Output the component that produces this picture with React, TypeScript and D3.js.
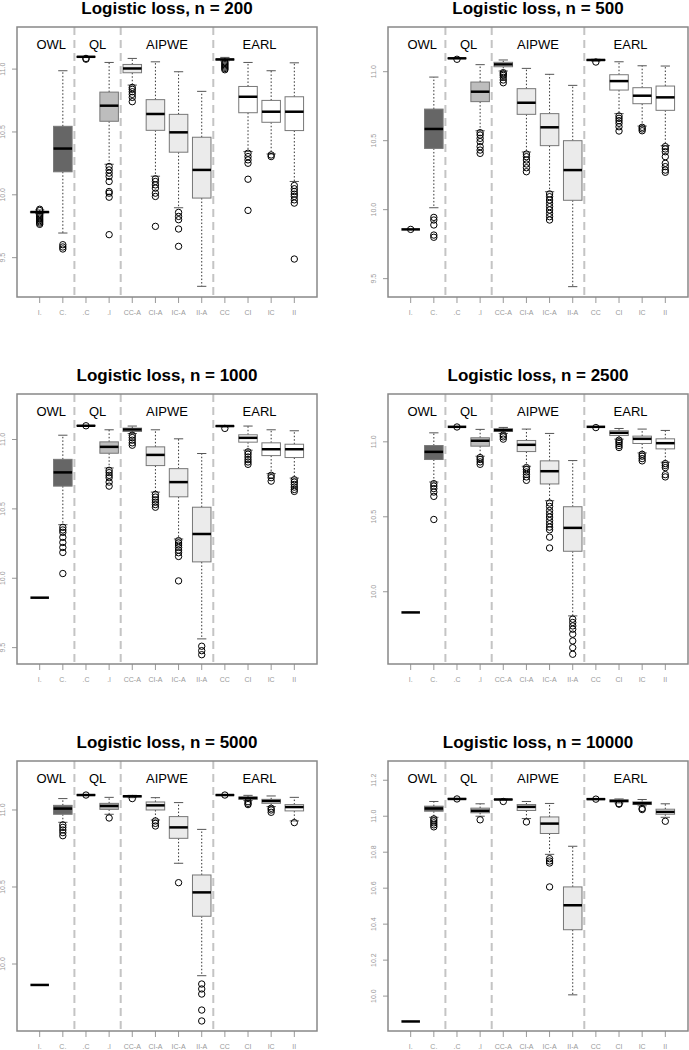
import React from "react";
import * as d3 from "d3";

// sample sizes, one panel each
const sampleSizes = [200, 500, 1000, 2500, 5000, 10000];
const boxLabels = ["I.", "C.", ".C", ".I", "CC-A", "CI-A", "IC-A", "II-A", "CC", "CI", "IC", "II"];
const methodGroups = ["OWL", "QL", "AIPWE", "EARL"];
const groupSpans = [[1, 2], [3, 4], [5, 8], [9, 12]];
const groupFills = ["#666666", "#bdbdbd", "#ebebeb", "#ffffff"];

// [lower whisker, Q1, median, Q3, upper whisker] per box
const stats200 = [
  [9.85, 9.858, 9.863, 9.866, 9.88],
  [9.696, 10.183, 10.368, 10.545, 10.987],
  [11.095, 11.096, 11.098, 11.099, 11.1],
  [10.243, 10.585, 10.709, 10.817, 11.053],
  [10.873, 10.971, 11.005, 11.037, 11.085],
  [10.148, 10.513, 10.643, 10.757, 11.058],
  [9.897, 10.339, 10.497, 10.64, 10.979],
  [9.272, 9.974, 10.198, 10.458, 10.823],
  [11.065, 11.073, 11.077, 11.08, 11.093],
  [10.344, 10.653, 10.78, 10.862, 11.053],
  [10.325, 10.577, 10.661, 10.751, 10.987],
  [10.106, 10.511, 10.661, 10.78, 11.05],
];
const outliers200 = [
  [9.845, 9.835, 9.825, 9.815, 9.805, 9.795, 9.785, 9.775, 9.765, 9.875, 9.885],
  [9.603, 9.585, 9.569],
  [11.085, 11.079],
  [10.225, 10.198, 10.172, 10.146, 10.106, 10.026, 10.013, 9.981, 9.683],
  [10.854, 10.839, 10.82, 10.799, 10.775, 10.741],
  [10.127, 10.106, 10.079, 10.053, 10.013, 9.987, 9.749],
  [9.86, 9.828, 9.802, 9.728, 9.59],
  [],
  [11.055, 11.045, 11.035, 11.025, 11.015, 11.005, 10.995],
  [10.331, 10.304, 10.278, 10.251, 10.124, 9.876],
  [10.317, 10.304],
  [10.074, 10.048, 10.026, 10.005, 9.987, 9.96, 9.934, 9.489],
];

const stats500 = [
  [9.857, 9.857, 9.857, 9.857, 9.857],
  [10.014, 10.444, 10.585, 10.729, 10.961],
  [11.096, 11.097, 11.097, 11.098, 11.099],
  [10.572, 10.783, 10.855, 10.925, 11.051],
  [11.005, 11.036, 11.053, 11.068, 11.085],
  [10.418, 10.691, 10.775, 10.877, 11.024],
  [10.13, 10.464, 10.597, 10.696, 10.981],
  [9.442, 10.068, 10.287, 10.5, 10.901],
  [11.077, 11.082, 11.085, 11.087, 11.09],
  [10.696, 10.867, 10.932, 10.978, 11.072],
  [10.606, 10.768, 10.826, 10.884, 11.043],
  [10.464, 10.72, 10.814, 10.896, 11.041],
];
const outliers500 = [
  [9.857],
  [9.944, 9.925, 9.889, 9.816, 9.8],
  [11.09],
  [10.558, 10.541, 10.517, 10.493, 10.457, 10.432, 10.408],
  [10.993, 10.983, 10.973, 10.959, 10.94, 10.92],
  [10.403, 10.384, 10.36, 10.331, 10.304, 10.275],
  [10.114, 10.094, 10.07, 10.046, 10.022, 9.998, 9.973, 9.949, 9.925],
  [],
  [11.07],
  [10.679, 10.662, 10.645, 10.626, 10.601, 10.57],
  [10.597, 10.585, 10.572],
  [10.457, 10.44, 10.42, 10.384, 10.336, 10.312, 10.287, 10.271],
];

const stats1000 = [
  [9.86, 9.86, 9.86, 9.86, 9.86],
  [10.386, 10.664, 10.763, 10.857, 11.031],
  [11.098, 11.099, 11.099, 11.1, 11.1],
  [10.795, 10.901, 10.947, 10.983, 11.07],
  [11.043, 11.058, 11.072, 11.082, 11.097],
  [10.621, 10.812, 10.889, 10.947, 11.07],
  [10.283, 10.587, 10.693, 10.79, 11.005],
  [9.563, 10.118, 10.319, 10.512, 10.899],
  [11.092, 11.095, 11.097, 11.098, 11.1],
  [10.923, 10.981, 11.012, 11.034, 11.097],
  [10.754, 10.884, 10.93, 10.976, 11.07],
  [10.722, 10.87, 10.93, 10.966, 11.063],
];
const outliers1000 = [
  [],
  [10.367, 10.348, 10.331, 10.295, 10.258, 10.222, 10.186, 10.034],
  [11.099],
  [10.778, 10.761, 10.742, 10.725, 10.693, 10.664],
  [11.031, 11.014, 10.995, 10.976, 10.959],
  [10.604, 10.585, 10.565, 10.548, 10.531, 10.512],
  [10.271, 10.254, 10.239, 10.222, 10.203, 10.184, 10.157, 9.981],
  [9.51, 9.478, 9.449],
  [11.08],
  [10.911, 10.894, 10.874, 10.855, 10.838, 10.821],
  [10.742, 10.725, 10.7],
  [10.71, 10.693, 10.676, 10.657, 10.64, 10.626],
];

const stats2500 = [
  [9.862, 9.862, 9.862, 9.862, 9.862],
  [10.732, 10.882, 10.933, 10.975, 11.06],
  [11.099, 11.1, 11.1, 11.1, 11.101],
  [10.904, 10.971, 11.007, 11.027, 11.083],
  [11.056, 11.069, 11.078, 11.087, 11.096],
  [10.837, 10.935, 10.98, 11.009, 11.085],
  [10.607, 10.719, 10.804, 10.873, 11.056],
  [9.839, 10.27, 10.426, 10.567, 10.875],
  [11.099, 11.1, 11.1, 11.1, 11.101],
  [11.018, 11.042, 11.06, 11.074, 11.089],
  [10.926, 10.989, 11.02, 11.038, 11.085],
  [10.864, 10.953, 10.991, 11.02, 11.076],
];
const outliers2500 = [
  [],
  [10.721, 10.705, 10.688, 10.665, 10.636, 10.482],
  [11.099],
  [10.895, 10.882, 10.866, 10.85],
  [11.045, 11.033, 11.018],
  [10.828, 10.815, 10.799, 10.783, 10.766, 10.743],
  [10.592, 10.569, 10.542, 10.52, 10.498, 10.475, 10.453, 10.431, 10.413, 10.364, 10.292],
  [9.817, 9.795, 9.772, 9.75, 9.717, 9.672, 9.627, 9.583],
  [11.095],
  [11.011, 11.0, 10.989, 10.975, 10.962],
  [10.917, 10.904, 10.888, 10.873],
  [10.855, 10.842, 10.828, 10.781, 10.766],
];

const stats5000 = [
  [9.864, 9.864, 9.864, 9.864, 9.864],
  [10.92, 10.972, 11.009, 11.03, 11.074],
  [11.096, 11.097, 11.097, 11.098, 11.098],
  [10.972, 11.004, 11.026, 11.043, 11.082],
  [11.08, 11.085, 11.089, 11.092, 11.095],
  [10.935, 11.0, 11.03, 11.052, 11.08],
  [10.654, 10.816, 10.887, 10.957, 11.048],
  [9.924, 10.31, 10.465, 10.578, 10.874],
  [11.096, 11.097, 11.097, 11.098, 11.098],
  [11.061, 11.069, 11.078, 11.084, 11.095],
  [11.022, 11.043, 11.058, 11.069, 11.091],
  [10.929, 10.994, 11.019, 11.035, 11.082],
];
const outliers5000 = [
  [],
  [10.903, 10.887, 10.87, 10.853, 10.833],
  [11.097],
  [10.948],
  [11.074],
  [10.929, 10.913, 10.896],
  [10.528],
  [9.87, 9.838, 9.805, 9.701, 9.63],
  [11.097],
  [11.054, 11.043, 11.035],
  [11.011, 11.0, 10.985],
  [10.918],
];

const stats10000 = [
  [9.859, 9.859, 9.859, 9.859, 9.859],
  [10.994, 11.028, 11.043, 11.056, 11.082],
  [11.095, 11.096, 11.096, 11.097, 11.097],
  [11.0, 11.019, 11.03, 11.045, 11.069],
  [11.091, 11.092, 11.093, 11.094, 11.095],
  [10.987, 11.032, 11.052, 11.065, 11.082],
  [10.788, 10.904, 10.959, 10.996, 11.071],
  [10.007, 10.369, 10.505, 10.607, 10.833],
  [11.094, 11.095, 11.095, 11.096, 11.096],
  [11.074, 11.08, 11.085, 11.091, 11.096],
  [11.058, 11.065, 11.072, 11.08, 11.093],
  [10.994, 11.011, 11.024, 11.039, 11.069],
];
const outliers10000 = [
  [],
  [10.985, 10.974, 10.963, 10.952, 10.941],
  [11.096],
  [10.98],
  [11.082],
  [10.968],
  [10.764, 10.751, 10.74, 10.607],
  [],
  [11.095],
  [11.07, 11.067],
  [11.043, 11.037],
  [10.972],
];

const allStats = [stats200, stats500, stats1000, stats2500, stats5000, stats10000];
const allOutliers = [outliers200, outliers500, outliers1000, outliers2500, outliers5000, outliers10000];

// y axis range of each panel (bottom, top of the frame)
const yDomains = [
  [9.187, 11.335],
  [9.367, 11.324],
  [9.382, 11.328],
  [9.518, 11.319],
  [9.565, 11.318],
  [9.806, 11.307],
];
const yTicksCoarse = [9.5, 10.0, 10.5, 11.0];
const yTicksFine = [10.0, 10.2, 10.4, 10.6, 10.8, 11.0, 11.2];

const W = 689;
const H = 1050;
const colLeft = [17, 388];
const rowTop = [27, 394, 761];
const plotW = 300;
const plotH = 270;
const font = "'Liberation Sans', Arial, Helvetica, sans-serif";

const Panel = ({ idx }: { idx: number }) => {
  const left = colLeft[idx % 2];
  const top = rowTop[Math.floor(idx / 2)];
  const bottom = top + plotH;
  const x = d3.scaleLinear().domain([0.02, 12.98]).range([left, left + plotW]);
  const y = d3.scaleLinear().domain(yDomains[idx]).range([bottom, top]);
  const stats = allStats[idx];
  const outs = allOutliers[idx];
  const ticks = (idx === 5 ? yTicksFine : yTicksCoarse).filter(
    (t) => t >= yDomains[idx][0] && t <= yDomains[idx][1]
  );
  const fmt = d3.format(".1f");
  const half = x(0.4) - x(0);
  const capHalf = x(0.2) - x(0);

  const fillOf = (i: number) => {
    const g = groupSpans.findIndex((s) => i + 1 >= s[0] && i + 1 <= s[1]);
    return groupFills[g];
  };

  return (
    <g>
      <text
        x={x(6.5)}
        y={top - 13}
        textAnchor="middle"
        fontFamily={font}
        fontWeight="bold"
        fontSize={17}
        fill="#000"
      >
        {`Logistic loss, n = ${sampleSizes[idx]}`}
      </text>

      {/* separators between methods */}
      {groupSpans.slice(0, 3).map((s, i) => (
        <line
          key={"sep" + i}
          x1={x(s[1] + 0.5)}
          x2={x(s[1] + 0.5)}
          y1={top}
          y2={bottom}
          stroke="#c4c4c4"
          strokeWidth={2}
          strokeDasharray="8,5"
        />
      ))}

      {methodGroups.map((m, i) => (
        <text
          key={m}
          x={x((groupSpans[i][0] + groupSpans[i][1]) / 2)}
          y={top + 22}
          textAnchor="middle"
          fontFamily={font}
          fontSize={13}
          fill="#000"
        >
          {m}
        </text>
      ))}

      {stats.map((s, i) => {
        const cx = x(i + 1);
        const [lw, q1, med, q3, uw] = s;
        return (
          <g key={"box" + i}>
            <line x1={cx} x2={cx} y1={y(q3)} y2={y(uw)} stroke="#333" strokeWidth={1} strokeDasharray="1.5,2" />
            <line x1={cx} x2={cx} y1={y(q1)} y2={y(lw)} stroke="#333" strokeWidth={1} strokeDasharray="1.5,2" />
            <line x1={cx - capHalf} x2={cx + capHalf} y1={y(uw)} y2={y(uw)} stroke="#555" strokeWidth={1} />
            <line x1={cx - capHalf} x2={cx + capHalf} y1={y(lw)} y2={y(lw)} stroke="#555" strokeWidth={1} />
            <rect
              x={cx - half}
              y={y(q3)}
              width={half * 2}
              height={Math.max(0, y(q1) - y(q3))}
              fill={fillOf(i)}
              stroke="#777"
              strokeWidth={1}
            />
            <line x1={cx - half} x2={cx + half} y1={y(med)} y2={y(med)} stroke="#000" strokeWidth={2.5} />
            {outs[i].map((o, j) => (
              <circle key={j} cx={cx} cy={y(o)} r={3.2} fill="none" stroke="#000" strokeWidth={1} />
            ))}
          </g>
        );
      })}

      {/* y axis */}
      {ticks.map((t) => (
        <g key={"yt" + t}>
          <line x1={left - 5} x2={left} y1={y(t)} y2={y(t)} stroke="#999" strokeWidth={1} />
          <text
            transform={`translate(${left - 12},${y(t)}) rotate(-90)`}
            textAnchor="middle"
            fontFamily={font}
            fontSize={7}
            fill="#999"
          >
            {fmt(t)}
          </text>
        </g>
      ))}

      {/* x axis */}
      {boxLabels.map((b, i) => (
        <g key={"xt" + i}>
          <line x1={x(i + 1)} x2={x(i + 1)} y1={bottom} y2={bottom + 6} stroke="#999" strokeWidth={1} />
          <text
            x={x(i + 1)}
            y={bottom + 18}
            textAnchor="middle"
            fontFamily={font}
            fontSize={7}
            fill="#999"
          >
            {b}
          </text>
        </g>
      ))}

      <rect x={left} y={top} width={plotW} height={plotH} fill="none" stroke="#888" strokeWidth={1.5} />
    </g>
  );
};

export default function App() {
  return (
    <div style={{ position: "absolute", left: 0, top: 0, background: "#fff" }}>
      <svg width={W} height={H} style={{ display: "block" }}>
        <rect width={W} height={H} fill="#fff" />
        {sampleSizes.map((_, i) => (
          <Panel key={i} idx={i} />
        ))}
      </svg>
    </div>
  );
}
